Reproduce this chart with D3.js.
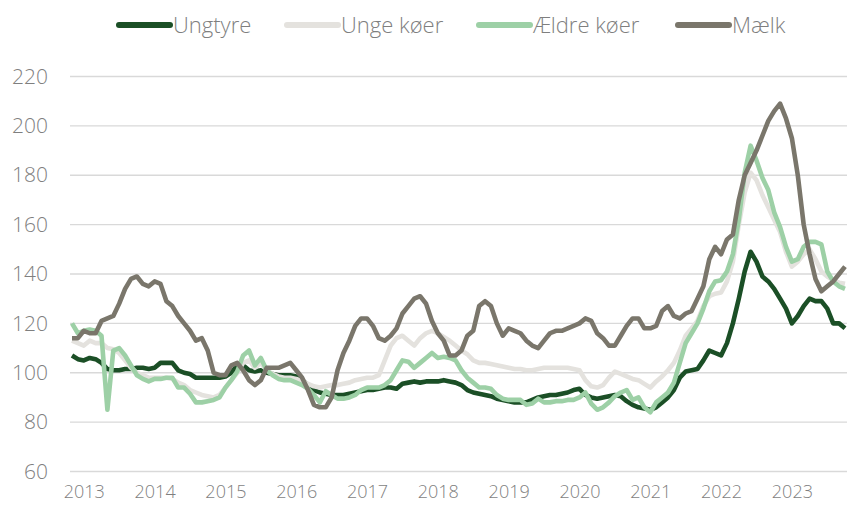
<!DOCTYPE html>
<html>
<head>
<meta charset="utf-8">
<script src="https://cdn.jsdelivr.net/npm/d3@7"></script>
<style>
  body { margin: 0; background: #fff; }
  text { font-family: "Open Sans", sans-serif; font-weight: 300; fill: #7f7f7f; }
</style>
</head>
<body>
<div id="chart"></div>
<script>
// monthly index, Nov 2012 .. Oct 2023
const startYear = 2012
const startMonth = 10  // 0-based, November
const yearLabels = ['2013', '2014', '2015', '2016', '2017', '2018', '2019', '2020', '2021', '2022', '2023']
const yTicks = [60, 80, 100, 120, 140, 160, 180, 200, 220]

const ungtyre = [107, 105.5, 105, 106, 105.5, 104, 101.5, 101, 101, 101.5, 101.5, 102,
  102, 101.5, 102, 104, 104, 104, 101, 100, 99.5, 98, 98, 98,
  98, 98, 98.5, 100, 103, 103, 101, 100.5, 101, 100, 99.5, 99,
  99, 99, 98.5, 97, 95, 93, 92, 91.5, 91, 91, 91, 91.5,
  92, 92.5, 93, 93, 93.5, 94, 94, 93.5, 95.5, 96, 96.5, 96,
  96.5, 96.5, 96.5, 97, 96.5, 96, 95, 93, 92, 91.5, 91, 90.5,
  89.5, 89, 88.5, 88, 88, 88, 89, 90, 90.5, 91, 91, 91.5,
  92, 93, 93.5, 91, 90, 89.5, 90, 90.5, 91, 90.5, 88.5, 87,
  86, 85.5, 85, 86, 88, 90, 93, 98, 100.5, 101, 101.5, 105,
  109, 108, 107, 112, 120, 130, 141, 149, 145, 139, 137, 134,
  130, 126, 120, 123, 127, 130, 129, 129, 126, 120, 120, 118]

const ungeKoer = [113, 112, 111, 113, 112, 112, 110, 109.5, 108, 105, 102, 100,
  99, 98, 98, 98, 98, 97.5, 96, 95, 93, 92, 91, 90.5,
  90, 91, 94, 97, 100, 104, 105, 102, 104, 101, 99.5, 98.5,
  98, 98, 97.5, 96.5, 95.5, 94.5, 94, 94.5, 95, 95, 95.5, 96,
  97, 97.5, 98, 98, 99, 105, 111, 114, 115, 113, 111, 114,
  116, 117, 116, 114.5, 113, 111, 109, 107.5, 105, 104, 104, 103.5,
  103, 102.5, 102, 101.5, 101.5, 101, 101, 101.5, 102, 102, 102, 102,
  102, 101.5, 101, 97, 94.5, 94, 95, 98, 100.5, 99.5, 98.5, 97.5,
  97, 95.5, 94, 96.5, 98.5, 101, 104, 109, 115, 118, 121, 127,
  131, 132, 132.5, 137, 145, 160, 173, 181, 178, 172, 167, 162,
  157, 149, 143, 145, 148, 150, 146, 141, 139, 137.5, 136.5, 136]

const aeldreKoer = [120, 116, 117, 117.5, 117, 115, 85, 109, 110, 107, 103, 99,
  97.5, 96.5, 97.5, 97.5, 98, 98, 94, 94, 91.5, 88, 88, 88.5,
  89, 90, 94, 97, 100.5, 107, 109, 103, 106, 101, 99, 97.5,
  97, 97, 96, 95, 93.5, 91, 88, 92.5, 91, 89.5, 89.5, 90,
  91, 93, 94, 94, 94, 95, 97, 101, 105, 104.5, 102, 104,
  106, 108, 106, 106.5, 106, 105, 101, 98, 96, 94, 94, 93.5,
  91, 89.5, 89, 89, 89, 87, 87.5, 89.5, 88, 88, 88.5, 88.5,
  89, 89, 90, 92, 87.5, 85, 86, 88, 90.5, 92, 93, 89,
  90, 86, 84, 88, 90, 92, 96, 104, 112, 116, 120, 126,
  133, 137, 137.5, 141, 148, 162, 181, 192, 186, 179, 174, 165,
  159, 151, 145, 146, 151, 153, 153, 152, 141, 137, 135, 134]

const maelk = [114, 114, 117, 116, 116, 121, 122, 123, 128, 134, 138, 139,
  136, 135, 137, 136, 129, 127, 123, 120, 117, 113, 114, 109,
  100, 99, 99, 103, 104, 101, 97, 95, 97, 102, 102, 102,
  103, 104, 101, 98, 93, 87, 86, 86, 90, 101, 108, 113,
  119, 122, 122, 119, 114, 113, 115, 118, 124, 127, 130, 131,
  128, 121, 116, 113, 107, 107, 109, 115, 117, 127, 129, 127,
  120, 115, 118, 117, 116, 113, 111, 110, 113, 116, 117, 117,
  118, 119, 120, 122, 121, 116, 114, 111, 111, 115, 119, 122,
  122, 118, 118, 119, 125, 127, 123, 122, 124, 125, 130, 135,
  146, 151, 148, 154, 156, 170, 180, 185, 190, 196, 202, 206,
  209, 203, 195, 180, 160, 148, 138, 133, 135, 137, 140, 143]

const seriesNames = ['Ungtyre', 'Unge køer', 'Ældre køer', 'Mælk']
const seriesColors = ['#1b4f26', '#e4e2de', '#9dd0a6', '#7a766b']
const seriesValues = [ungtyre, ungeKoer, aeldreKoer, maelk]

function draw_chart() {
    const width = 847
    const height = 509

    const svg = d3.select('#chart').append('svg')
        .attr('width', width)
        .attr('height', height)

    const x = d3.scaleLinear().domain([0, ungtyre.length - 1]).range([72, 845])
    const y = d3.scaleLinear().domain([60, 220]).range([471.5, 76.5])

    // gridlines
    svg.append('g').selectAll('line').data(yTicks).join('line')
        .attr('x1', 70).attr('x2', width)
        .attr('y1', (d) => y(d)).attr('y2', (d) => y(d))
        .attr('stroke', '#d9d9d9').attr('stroke-width', 1.3)

    // y axis labels
    const yAxis = svg.append('g').attr('transform', 'translate(48,0)')
        .call(d3.axisLeft(y).tickValues(yTicks).tickSize(0).tickPadding(0))
    yAxis.select('.domain').remove()
    yAxis.selectAll('text')
        .style('font-family', '"Open Sans", sans-serif')
        .style('font-weight', 300)
        .style('font-size', '21px').attr('fill', '#7f7f7f')

    // x axis labels, one per January
    const janIdx = yearLabels.map((d) => (+d - startYear) * 12 - startMonth)
    const xAxis = svg.append('g').attr('transform', 'translate(0,485)')
        .call(d3.axisBottom(x).tickValues(janIdx).tickSize(0).tickPadding(0)
            .tickFormat((d, i) => yearLabels[i]))
    xAxis.select('.domain').remove()
    xAxis.selectAll('text')
        .style('font-family', '"Open Sans", sans-serif')
        .style('font-weight', 300)
        .style('font-size', '18px').attr('fill', '#7f7f7f')

    const line = d3.line().x((d, i) => x(i)).y((d) => y(d))

    svg.append('g').selectAll('path').data(seriesValues).join('path')
        .attr('d', (d) => line(d))
        .attr('fill', 'none')
        .attr('stroke', (d, i) => seriesColors[i])
        .attr('stroke-width', 4.6)
        .attr('stroke-linejoin', 'round')

    // legend
    const legendX = [117, 285, 477, 676]
    const legend = svg.append('g').selectAll('g').data(seriesNames).join('g')
        .attr('transform', (d, i) => 'translate(' + legendX[i] + ',25)')
    legend.append('line')
        .attr('x1', 2).attr('x2', 53).attr('y1', 0).attr('y2', 0)
        .attr('stroke', (d, i) => seriesColors[i])
        .attr('stroke-width', 6).attr('stroke-linecap', 'round')
    legend.append('text')
        .attr('x', 56).attr('y', 0).attr('dy', '0.35em')
        .style('font-size', '22px')
        .text((d) => d)
}

draw_chart()
</script>
</body>
</html>
